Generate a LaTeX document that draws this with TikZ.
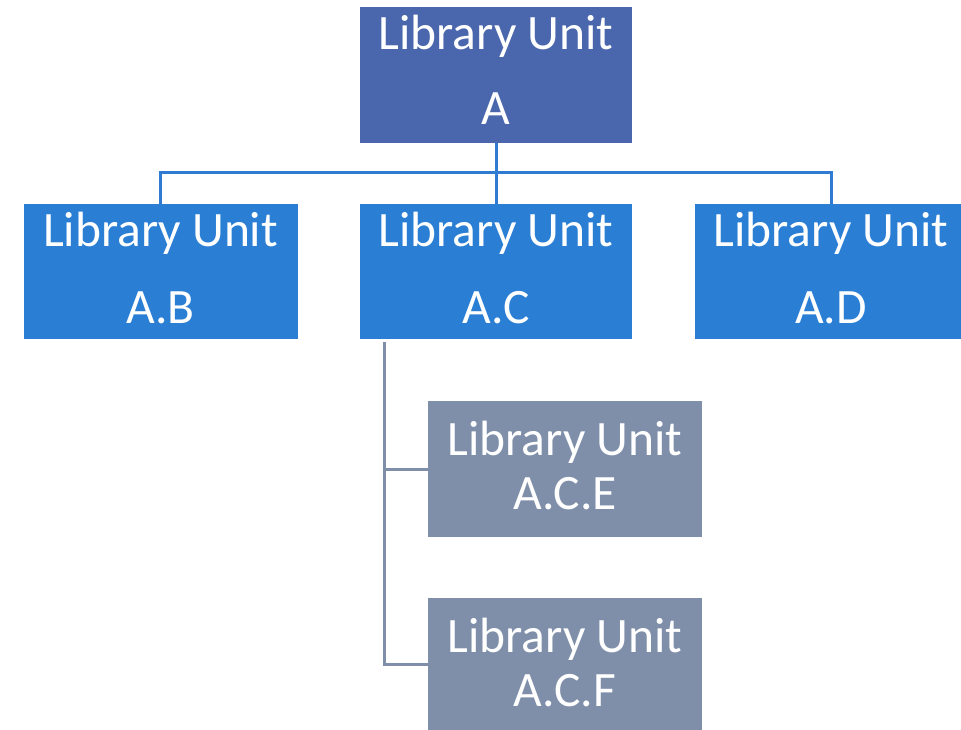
\documentclass[tikz,border=0pt]{standalone}
\usepackage{fontspec}
\setmainfont{Carlito}
\definecolor{topblue}{HTML}{4A66AC}
\definecolor{midblue}{HTML}{2A7FD5}
\definecolor{linkblue}{HTML}{2E7BD1}
\definecolor{slate}{HTML}{7F8FA9}
\tikzset{
  unitbox/.style={draw=none, inner sep=0pt, outer sep=0pt},
  unittext/.style={anchor=base, text=white, inner sep=0pt,
    font=\fontsize{49.5}{60}\selectfont},
  bluelink/.style={draw=linkblue, line width=3pt, line join=miter},
  greylink/.style={draw=slate, line width=3pt, line join=miter},
}
\begin{document}
\begin{tikzpicture}[x=1pt, y=-1pt]
\useasboundingbox (0,0) rectangle (961,730);

% boxes: fill rectangles given by their corners
\node[unitbox, fill=topblue, minimum width=272pt, minimum height=136pt] (a)   at (496,75) {};
\node[unitbox, fill=midblue, minimum width=274pt, minimum height=135pt] (ab)  at (160.5,271.5) {};
\node[unitbox, fill=midblue, minimum width=272pt, minimum height=135pt] (ac)  at (496,271.5) {};
\node[unitbox, fill=midblue, minimum width=266pt, minimum height=135pt] (ad)  at (828,271.5) {};
\node[unitbox, fill=slate,   minimum width=274pt, minimum height=136pt] (ace) at (565,469) {};
\node[unitbox, fill=slate,   minimum width=274pt, minimum height=132pt] (acf) at (565,664) {};

% labels
\node[unittext] (a1)   at (496,50)  {Library Unit};
\node[unittext] (a2)   at (496,125) {A};
\node[unittext] (ab1)  at (160.5,247) {Library Unit};
\node[unittext] (ab2)  at (160.5,323) {A.B};
\node[unittext] (ac1)  at (496,247) {Library Unit};
\node[unittext] (ac2)  at (496,323) {A.C};
\node[unittext] (ad1)  at (831,247) {Library Unit};
\node[unittext] (ad2)  at (831,323) {A.D};
\node[unittext] (ace1) at (565,455) {Library Unit};
\node[unittext] (ace2) at (565,509) {A.C.E};
\node[unittext] (acf1) at (565,652) {Library Unit};
\node[unittext] (acf2) at (565,706) {A.C.F};

% connectors from A to the second row
\coordinate (bus) at (496,173);
\coordinate (adtop) at (831,204);
\draw[bluelink] (a.south) -- (bus);
\draw[bluelink] (ab.north) |- (bus) -| (adtop);
\draw[bluelink] (bus) -- (ac.north);

% connectors from A.C to its children
\coordinate (spine) at (384,342);
\draw[greylink] (spine) |- (ace.west);
\draw[greylink] (spine) |- (acf.west);
\end{tikzpicture}
\end{document}
